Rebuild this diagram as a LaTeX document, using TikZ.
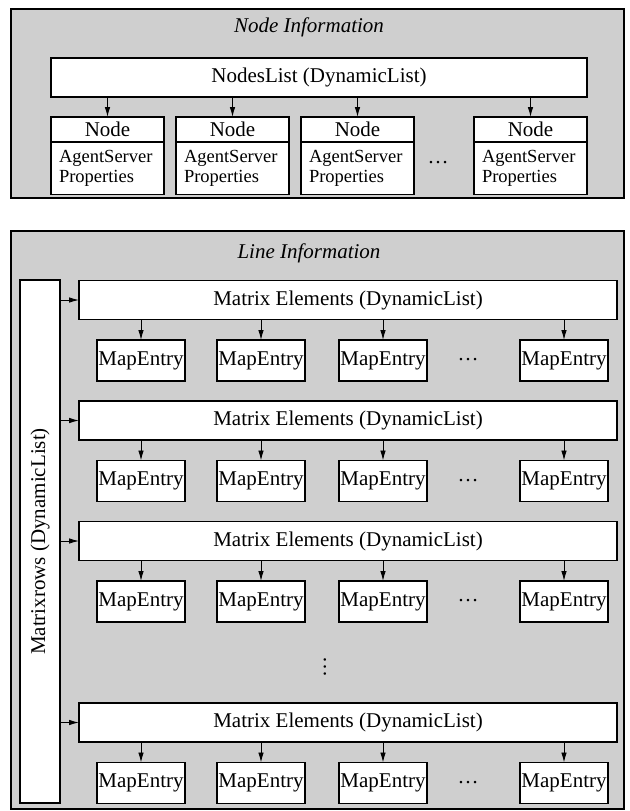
\documentclass[tikz,border=0pt]{standalone}
\usepackage{fontspec}
\setmainfont{Liberation Serif}
\usepackage{tikz}
\usetikzlibrary{positioning, calc, arrows.meta}

\begin{document}
\begin{tikzpicture}[x=1pt, y=-1pt,
	every node/.style={font=\fontsize{21}{21}\selectfont},
	panel/.style={draw, line width=1.3pt, fill=gray!38},
	listbox/.style={draw, line width=1.2pt, fill=white, minimum height=39pt, inner sep=0pt, outer sep=0pt},
	entry/.style={listbox, minimum width=88pt, minimum height=41pt},
	link/.style={line width=0.9pt, -{Latex[length=10pt, width=5.5pt]}}]
	\useasboundingbox (0,0) rectangle (629,811);

	\draw [panel] (11,9) rectangle (624,198);
	\node (nodeinfo) at (309,27) {\itshape Node Information};
	\node [listbox, minimum width=536pt] (nodeslist) at (319,77.5) {NodesList (DynamicList)};
	\foreach \i/\x in {1/107.5, 2/232.5, 3/357.5, 4/530.5} {
		\node [listbox, minimum width=113pt, minimum height=25pt] (head\i) at (\x,129.5) {Node};
		\node [listbox, below=0pt of head\i, minimum width=113pt, minimum height=50pt, text width=97pt, inner sep=8pt, align=left, font=\fontsize{18.5}{20}\selectfont] (body\i) {AgentServer\\Properties};
		\draw [link] (nodeslist.south -| head\i.north) -- (head\i.north);
	}
	\node (nodedots) at (438,163) {\dots};

	\draw [panel] (11,231) rectangle (624,809);
	\node (lineinfo) at (309,253) {\itshape Line Information};
	\node [listbox, minimum width=40pt, minimum height=523pt] (matrixrows) at (40,541.5) {\rotatebox{90}{Matrixrows (DynamicList)}};
	\foreach \r/\y in {1/300, 2/420.5, 3/541, 4/722.5} {
		\node [listbox, minimum width=538pt] (elements\r) at (348,\y) {Matrix Elements (DynamicList)};
		\draw [link] (matrixrows.east |- elements\r.west) -- (elements\r.west);
		\foreach \c/\x in {1/141, 2/261, 3/383, 4/564} {
			\node [entry] (entry\r\c) at (\x,\y+60.5) {MapEntry};
			\draw [link] (elements\r.south -| entry\r\c.north) -- (entry\r\c.north);
		}
		\node (entrydots\r) at (468,\y+60) {\dots};
	}
	\node [rotate=90] (rowdots) at (325,667) {\dots};
\end{tikzpicture}
\end{document}
